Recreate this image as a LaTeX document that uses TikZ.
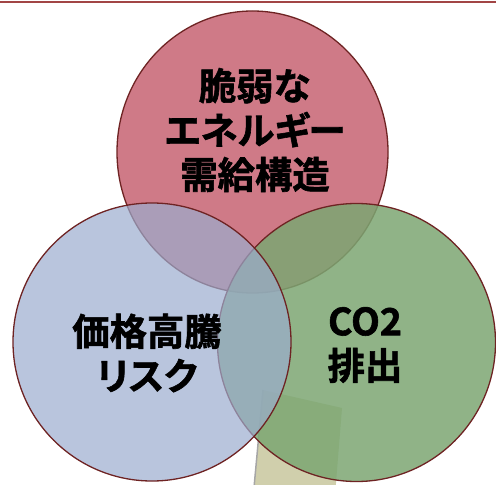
\documentclass[tikz,border=0pt]{standalone}
\usepackage{fontspec}
\newfontfamily\jp{Noto Sans CJK JP Bold}[FakeBold=1.6]
\newfontfamily\jpp{Noto Sans CJK JP Bold}[RawFeature=+palt, FakeBold=1.6]
\usetikzlibrary{shapes.geometric}
\definecolor{rimc}{RGB}{110,35,35}
\definecolor{redc}{RGB}{207,122,135}
\definecolor{bluec}{RGB}{155,172,206}
\definecolor{greenc}{RGB}{124,166,114}
\definecolor{tanc}{RGB}{208,207,172}
\definecolor{topc}{RGB}{162,69,69}
\tikzset{
  venn/.style={draw=rimc, line width=1.3bp, inner sep=0pt, outer sep=0pt},
  lbl/.style={font=\jp\fontsize{37.5}{44.5}\selectfont, align=center, inner sep=0pt, text=black},
}
\begin{document}
\begin{tikzpicture}[x=1bp,y=-1bp]
\useasboundingbox (0,0) rectangle (496,485);
\begin{scope}
\clip (0,0) rectangle (496,485);
\fill[tanc] (263,390) -- (342,408) -- (333,520) -- (251,520) -- cycle;
\draw[gray!70, line width=1.5bp] (263,390) -- (251,520);
\end{scope}
\node[venn, ellipse, fill=redc, minimum width=271bp, minimum height=282bp] (red) at (252.5,152) {};
\node[venn, circle, fill=greenc, fill opacity=0.85, minimum size=278bp] (green) at (356.5,342.5) {};
\node[venn, circle, fill=bluec, fill opacity=0.7, minimum size=278bp] (blue) at (152,342) {};
\draw[topc, line width=1.8bp] (0,2.3) coordinate (tl) -- (496,2.3) coordinate (tr);
\node[lbl] (t1) at (255,130) {脆弱な\\{\jpp エネルギー}\\需給構造};
\node[lbl] (t2) at (147,353) {価格高騰\\{\jpp リスク}};
\node[lbl] (t3) at (365,345) {CO2\\排出};
\end{tikzpicture}
\end{document}
